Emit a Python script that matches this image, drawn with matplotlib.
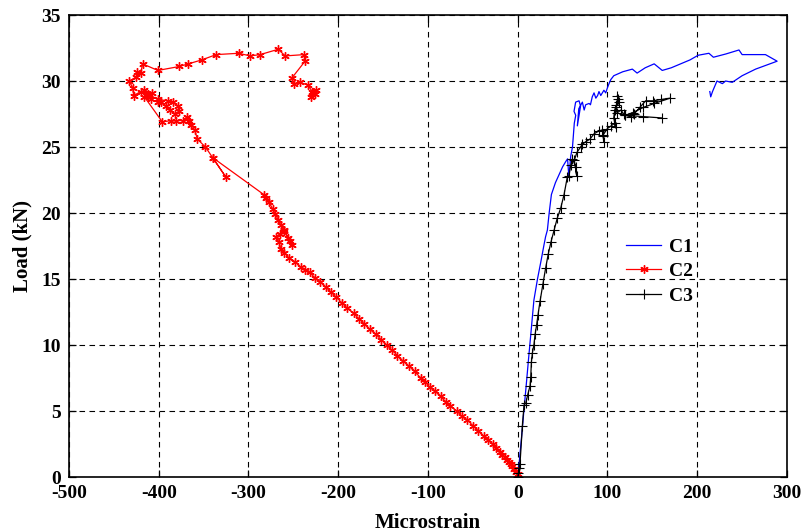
import matplotlib
matplotlib.use("Agg")
import matplotlib.pyplot as plt

# ---------------- data ----------------
c1_strain = [0, 1.5, 4.2, 6.8, 9.5, 12.1, 14.8, 18, 22, 26, 29, 31, 33, 35, 37.5, 42, 46, 50,
             53.5, 55.5, 57, 59, 61, 63, 64.6, 62.7, 64.5, 68.3, 70, 66.4, 68, 72, 74, 75.7,
             79.5, 81, 83, 85, 87, 89, 90.5, 92.5, 96, 98, 100, 101.7, 103.6, 107, 117,
             127.7, 133, 142, 152, 161, 171, 181.5, 192, 201, 213, 218, 232, 246.5, 250,
             263, 276, 289, 265, 250, 239, 231.6, 228, 222, 217, 215, 214]
c1_load = [0, 1.0, 3.0, 5.0, 7.0, 9.0, 11.0, 13.4, 15.0, 16.4, 17.5, 18.2, 18.7, 20.0, 21.4,
           22.3, 22.9, 23.5, 23.9, 24.1, 22.7, 24.3, 25.0, 26.8, 27.4, 27.7, 28.4, 28.5,
           28.1, 26.6, 27.9, 28.4, 27.8, 28.2, 28.3, 28.2, 28.8, 29.1, 28.7, 28.9, 29.2,
           28.9, 29.3, 29.1, 29.5, 29.8, 30.1, 30.4, 30.7, 30.9, 30.6, 31.0, 31.3, 30.8,
           31.0, 31.3, 31.6, 31.95, 32.1, 31.8, 32.05, 32.35, 32.0, 32.0, 32.0, 31.5,
           30.9, 30.4, 29.9, 30.0, 29.8, 30.0, 29.2, 28.8, 29.2]

c2_strain = [0, -2, -4, -6, -8, -10, -12, -14, -17, -20, -24, -28, -33, -38, -44, -50, -56,
             -62, -68, -75, -80, -86, -92, -98, -103, -108, -115, -121, -128, -134, -140,
             -146, -152, -158, -165, -171, -177, -183, -190, -196, -202, -208, -214, -220,
             -226, -232, -237, -242, -248, -255, -260, -264, -266, -269.5, -265, -260,
             -256, -251, -254, -260, -264, -267, -270, -273, -277, -280, -283,
             -340, -325, -340, -348, -357, -360, -364, -366, -368, -373, -381, -386, -396,
             -416, -412, -407, -416, -409, -401, -397, -392, -388, -382, -377, -379, -384,
             -390, -401, -412, -420, -428, -429, -433, -425, -424, -420, -418, -401, -377,
             -367, -352, -336, -311, -298, -287, -267, -259, -238, -237, -252, -249, -243,
             -234, -229, -225, -230, -226, -228]
c2_load = [0.2, 0.4, 0.6, 0.8, 1.0, 1.1, 1.3, 1.5, 1.7, 1.9, 2.2, 2.5, 2.8, 3.1, 3.5, 3.9,
           4.3, 4.6, 5.0, 5.4, 5.7, 6.1, 6.5, 6.8, 7.2, 7.5, 8.0, 8.4, 8.8, 9.2, 9.6, 10.0,
           10.4, 10.8, 11.2, 11.6, 12.0, 12.4, 12.8, 13.2, 13.6, 14.0, 14.4, 14.8, 15.1,
           15.5, 15.7, 15.9, 16.3, 16.6, 17.0, 17.3, 17.8, 18.2, 18.4, 18.6, 18.1, 17.6,
           17.9, 18.7, 19.1, 19.5, 19.9, 20.3, 20.8, 21.1, 21.4,
           24.2, 22.7, 24.2, 25.0, 25.6, 26.3, 26.7, 27.0, 27.3, 27.0, 27.0, 27.0, 26.9,
           28.8, 28.9, 29.1, 29.3, 28.6, 28.4, 28.4, 28.1, 27.8, 27.5, 27.7, 28.1, 28.4,
           28.5, 28.6, 29.0, 29.2, 28.9, 29.5, 30.0, 30.3, 30.7, 30.6, 31.3, 30.8, 31.1,
           31.3, 31.6, 32.0, 32.1, 31.9, 32.0, 32.4, 31.9, 32.0, 31.5, 30.2, 29.8, 29.9,
           29.7, 29.2, 29.3, 28.8, 29.0, 29.1]

c3_strain = [0, 0.8, 1.5, 2.5, 5.2, 7, 9, 11, 13.7, 14.5, 15.2, 16.3, 18, 19.3, 21, 22.6,
             24.8, 28, 31, 34, 37, 40.5, 44, 48, 51.6, 55.3, 57, 59, 61, 64.6, 65.7, 63, 66,
             70, 72, 75.7, 80.5, 85, 90, 94.3, 95.4, 96, 95, 99.9, 104, 108, 109, 107, 108,
             110, 112, 111, 113, 109, 111, 115, 118, 120, 126, 129.6, 136, 142.5, 151, 160,
             169.7, 152, 140, 128, 120, 140, 161]
c3_load = [0, 0.3, 0.7, 1.0, 3.9, 5.45, 5.6, 6.2, 6.9, 7.6, 8.7, 9.4, 10.0, 10.8, 11.5, 12.3,
           13.3, 14.6, 15.8, 16.9, 17.8, 18.7, 19.6, 20.4, 21.4, 22.75, 22.8, 23.6, 24.1,
           23.5, 22.8, 24.0, 24.6, 25.0, 25.2, 25.4, 25.6, 26.0, 26.2, 26.3, 25.8, 25.4,
           25.9, 26.4, 26.6, 26.8, 26.5, 27.2, 27.8, 28.2, 28.6, 28.9, 28.4, 28.0, 27.6,
           27.8, 27.5, 27.4, 27.3, 27.5, 28.0, 28.5, 28.5, 28.6, 28.7, 28.3, 28.0, 27.6,
           27.4, 27.3, 27.2]

series_names = ["C1", "C2", "C3"]
x_ticks = [-500, -400, -300, -200, -100, 0, 100, 200, 300]
y_ticks = [0, 5, 10, 15, 20, 25, 30, 35]

# ---------------- figure ----------------
plt.rcParams['font.family'] = ['Liberation Serif', 'DejaVu Serif']
plt.rcParams['font.weight'] = 'bold'

fig = plt.figure(figsize=(8.03, 5.32), dpi=100)
ax = fig.add_axes([69 / 803, 55 / 532, 718 / 803, 462 / 532])

ax.plot(c1_strain, c1_load, color='#0000FF', lw=0.9, label=series_names[0])
ax.plot(c2_strain, c2_load, color='#FF0000', lw=0.9, marker=(6, 2, 0), ms=6,
        markeredgewidth=1.0, label=series_names[1])
ax.plot(c3_strain, c3_load, color='black', lw=0.9, marker='+', ms=7,
        markeredgewidth=0.8, label=series_names[2])

ax.set_xlim(-500, 300)
ax.set_ylim(0, 35)
ax.set_xticks(x_ticks)
ax.set_yticks(y_ticks)
ax.set_xticklabels([str(v) for v in x_ticks])
ax.set_yticklabels([str(v) for v in y_ticks])

ax.grid(True, color='black', linestyle=(0, (5, 4)), linewidth=0.8)
ax.tick_params(direction='in', length=5, width=0.9, top=True, right=True,
               labelsize=14, pad=6)
for lab in ax.get_xticklabels() + ax.get_yticklabels():
    lab.set_fontweight('bold')
for sp in ax.spines.values():
    sp.set_linewidth(1.2)

ax.set_xlabel("Microstrain", fontsize=15, fontweight='bold', labelpad=8)
ax.set_ylabel("Load (kN)", fontsize=15, fontweight='bold', labelpad=6)

leg = ax.legend(loc='center left', bbox_to_anchor=(0.752, 0.445), frameon=False,
                handlelength=1.8, labelspacing=0.35, handletextpad=0.4,
                prop={'weight': 'bold', 'size': 14})

fig.savefig("out.png", dpi=100)
